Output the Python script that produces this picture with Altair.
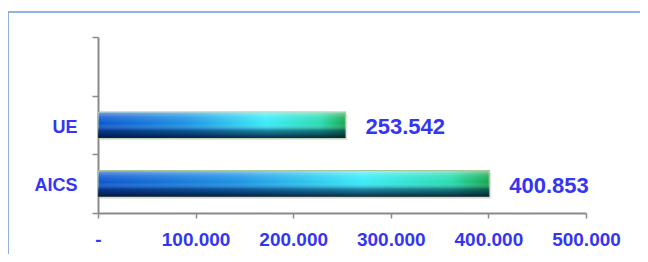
import altair as alt
import pandas as pd

categories = ["UE", "AICS"]
values = [253542, 400853]
domain_cats = [" ", "UE", "AICS"]
x_ticks = [0, 100000, 200000, 300000, 400000, 500000]

df = pd.DataFrame({"cat": categories, "val": values})

BLUE = "#3535f5"
FONT = "Liberation Sans"

h_grad = alt.Gradient(
    gradient="linear", x1=0, y1=0, x2=1, y2=0,
    stops=[
        alt.GradientStop(offset=0, color="#0b55d0"),
        alt.GradientStop(offset=0.35, color="#1a92e4"),
        alt.GradientStop(offset=0.68, color="#38ecf8"),
        alt.GradientStop(offset=0.9, color="#28dcb0"),
        alt.GradientStop(offset=1, color="#12a84c"),
    ],
)
v_grad = alt.Gradient(
    gradient="linear", x1=0, y1=0, x2=0, y2=1,
    stops=[
        alt.GradientStop(offset=0, color="rgba(255,255,255,0.45)"),
        alt.GradientStop(offset=0.2, color="rgba(255,255,255,0.15)"),
        alt.GradientStop(offset=0.45, color="rgba(255,255,255,0)"),
        alt.GradientStop(offset=0.7, color="rgba(0,20,70,0.45)"),
        alt.GradientStop(offset=1, color="rgba(0,10,40,0.85)"),
    ],
)

y_enc = alt.Y(
    "cat:N",
    scale=alt.Scale(domain=domain_cats, paddingInner=0, paddingOuter=0),
    sort=domain_cats,
    axis=alt.Axis(
        title=None, tickBand="extent", tickSize=6, tickColor="#8a8a8a", tickWidth=1.5,
        domainColor="#8a8a8a", domainWidth=2, labelColor=BLUE, labelFont=FONT,
        labelFontSize=18, labelFontWeight="bold", labelPadding=15, labelOffset=2,
    ),
)
x_enc = alt.X(
    "val:Q",
    scale=alt.Scale(domain=[0, 500000], nice=False),
    axis=alt.Axis(
        title=None, values=x_ticks, grid=False, tickSize=5, tickColor="#8a8a8a", tickWidth=1.5,
        domainColor="#8a8a8a", domainWidth=2, labelColor=BLUE, labelFont=FONT,
        labelFontSize=19, labelFontWeight="bold", labelPadding=12,
        labelOverlap=False, labelFlush=False,
        labelExpr="datum.value == 0 ? '-' : format(datum.value / 1000, '.3f')",
    ),
)

base = alt.Chart(df)

shadow = base.mark_bar(size=26, color="#c8c8c8", opacity=0.5, xOffset=2, yOffset=2).encode(x=x_enc, y=y_enc)
bars = base.mark_bar(size=26, fill=h_grad, stroke="#9cc08c", strokeWidth=1.2).encode(x=x_enc, y=y_enc)
gloss = base.mark_bar(size=26, fill=v_grad).encode(x=x_enc, y=y_enc)
labels = base.transform_calculate(
    txt="format(datum.val / 1000, '.3f')"
).mark_text(
    align="left", baseline="middle", dx=20, dy=2, font=FONT, fontSize=22,
    fontWeight="bold", color=BLUE,
).encode(x=x_enc, y=y_enc, text="txt:N")

frame = alt.Chart(alt.Data(values=[{"a": 1}])).mark_rect(
    fill=None, stroke="#6f9bd4", strokeWidth=1.5
).encode(
    x=alt.value(-90), x2=alt.value(700), y=alt.value(-25), y2=alt.value(400)
)

chart = alt.layer(frame, shadow, bars, gloss, labels).properties(
    width=488, height=176,
    padding={"left": 90, "top": 29, "right": 54, "bottom": 41},
    autosize=alt.AutoSizeParams(type="none"),
).configure_view(stroke=None)

chart.save("out.html", embed_options={"renderer": "svg", "actions": False})
